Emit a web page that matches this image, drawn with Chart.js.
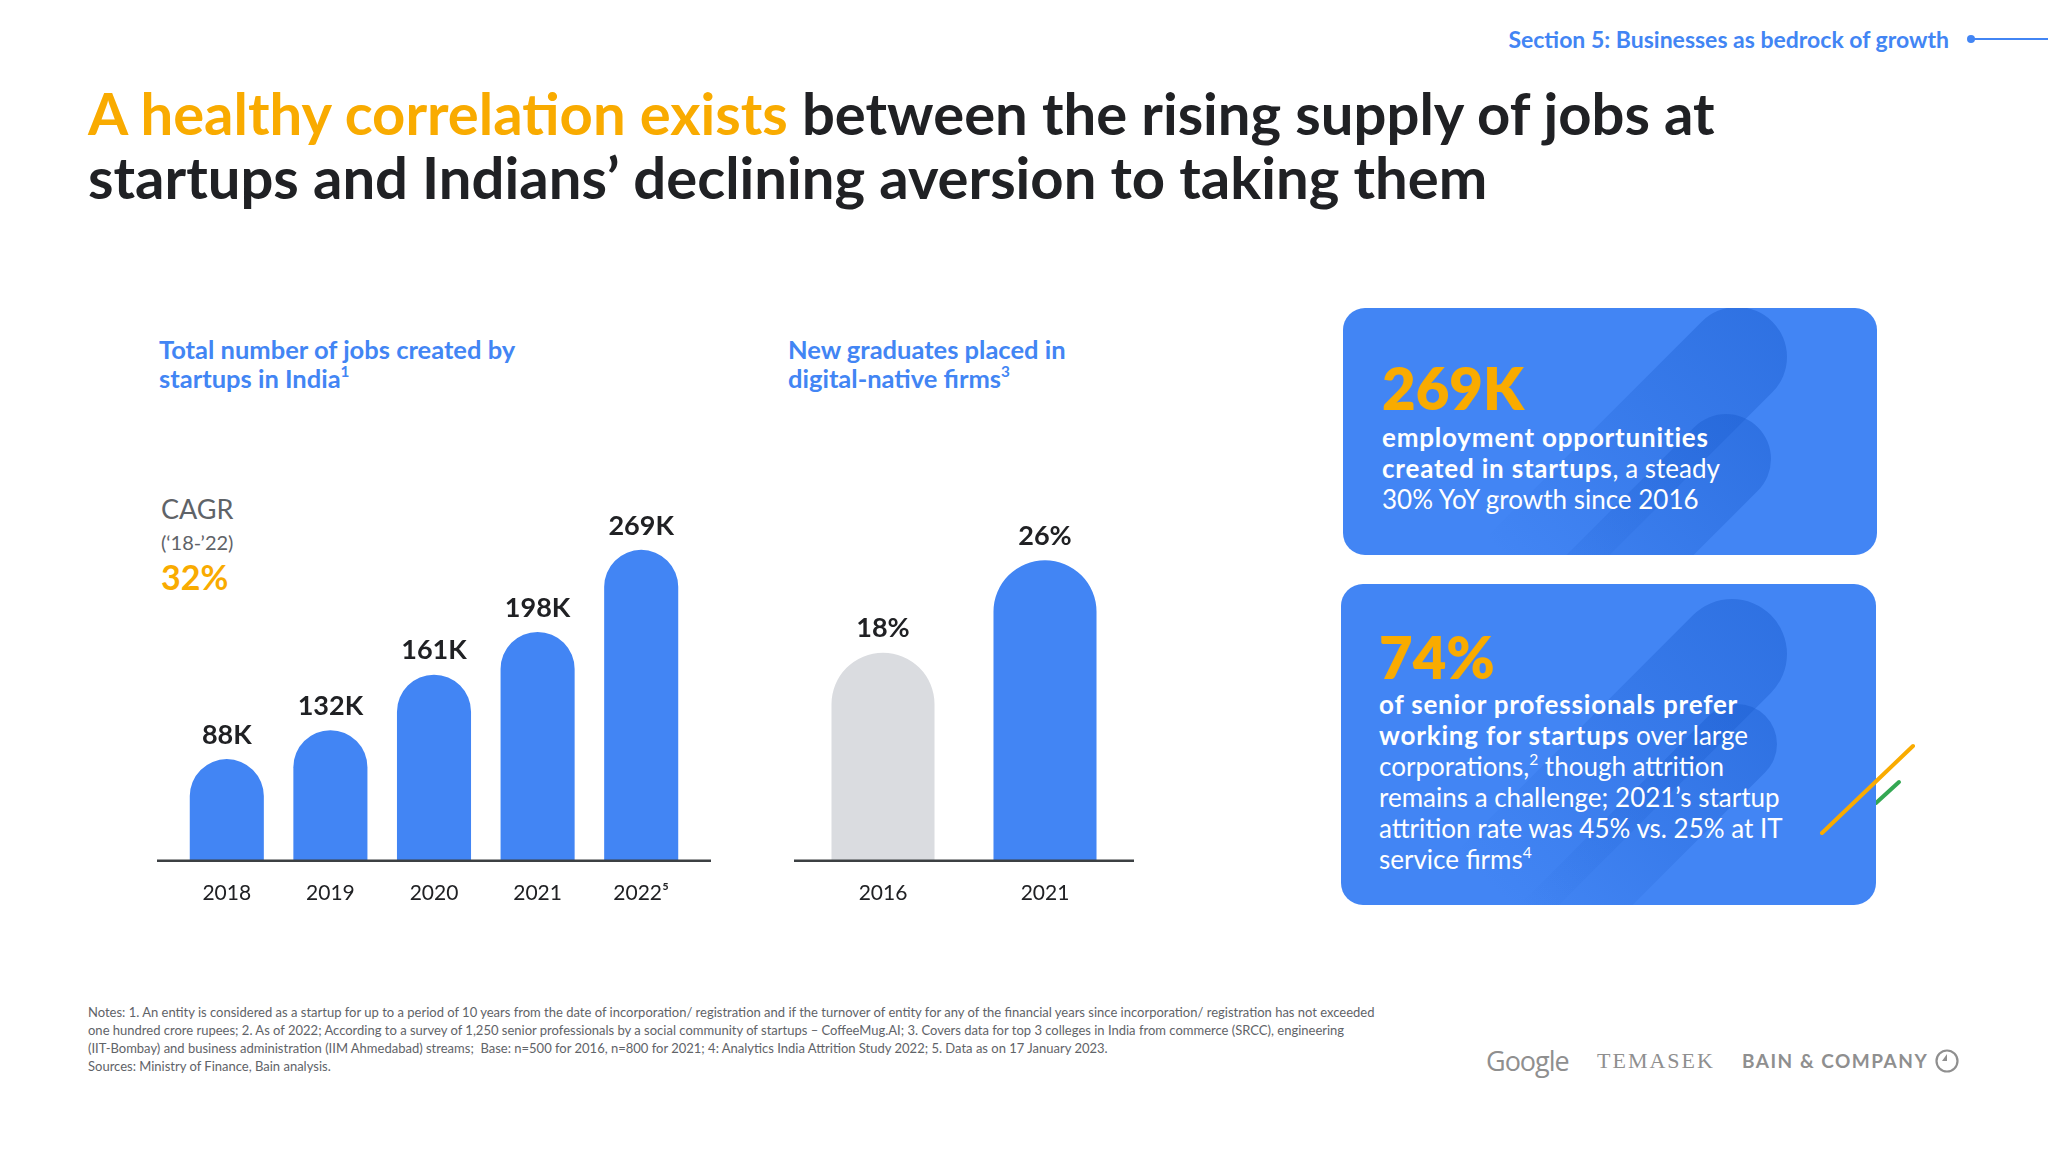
<!DOCTYPE html>
<html>
<head>
<meta charset="utf-8">
<script src="https://cdn.jsdelivr.net/npm/chart.js@4.4.1/dist/chart.umd.min.js"></script>
<style>
  html, body { margin: 0; padding: 0; background: #fff; }
  body { width: 2048px; height: 1152px; position: relative; overflow: hidden; font-family: Lato, "Open Sans", sans-serif; color: #202124; }
  .abs { position: absolute; }
  .section { right: 99px; top: 25px; font-size: 23px; font-weight: 700; color: #4285F4; white-space: nowrap; }
  .section-line { left: 1972px; top: 38px; width: 76px; height: 2px; background: #4285F4; }
  .section-dot { left: 1967px; top: 35px; width: 8px; height: 8px; border-radius: 50%; background: #4285F4; }
  .title { left: 88px; top: 81px; font-size: 58px; line-height: 64px; font-weight: 700; white-space: nowrap; }
  .title .hl { color: #F9AB00; }
  .sub { font-size: 25.5px; line-height: 29px; font-weight: 700; color: #4285F4; white-space: nowrap; }
  sup { font-size: 0.6em; line-height: 0; vertical-align: 0.7em; }
  .cagr { left: 161px; top: 491px; color: #5f6368; }
  .cagr .a { font-size: 27px; line-height: 36px; }
  .cagr .b { font-size: 20px; line-height: 30px; }
  .cagr .c { font-size: 34px; line-height: 40px; font-weight: 700; color: #F9AB00; }
  .card { background: #4285F4; border-radius: 22px; overflow: hidden; color: #fff; }
  .stripe { position: absolute; transform-origin: 50px 50px; transform: rotate(45deg);
            background: linear-gradient(to bottom, rgba(24,90,205,0.45), rgba(24,90,205,0.0) 85%); }
  .big { position: absolute; font-size: 58px; line-height: 64px; font-weight: 800; color: #F9AB00; }
  .body { position: absolute; font-size: 26px; line-height: 31px; white-space: nowrap; }
  .body b { font-weight: 700; letter-spacing: 0.8px; }
  .notes { left: 88px; top: 1003px; font-size: 13px; line-height: 18px; color: #5f6368; white-space: nowrap; }
  .logo { color: #8f8f8f; white-space: nowrap; }
</style>
</head>
<body>

<div class="abs section">Section 5: Businesses as bedrock of growth</div>
<div class="abs section-line"></div>
<div class="abs section-dot"></div>

<div class="abs title"><span class="hl">A healthy correlation exists</span> between the rising supply of jobs at<br>startups and Indians’ declining aversion to taking them</div>

<div class="abs sub" style="left:159px; top:335px;">Total number of jobs created by<br>startups in India<sup>1</sup></div>
<div class="abs sub" style="left:788px; top:335px;">New graduates placed in<br>digital-native firms<sup>3</sup></div>

<div class="abs cagr">
  <div class="a">CAGR</div>
  <div class="b">(‘18-’22)</div>
  <div class="c">32%</div>
</div>

<div class="abs" style="left:155px; top:514px; width:558px; height:412px;"><canvas id="jobsChart"></canvas></div>
<div class="abs" style="left:782px; top:514px; width:364px; height:412px;"><canvas id="gradChart"></canvas></div>

<svg class="abs" style="left:1800px; top:730px;" width="130" height="120">
  <line x1="76" y1="73" x2="99" y2="52" stroke="#34A853" stroke-width="4" stroke-linecap="round"/>
</svg>

<div class="abs card" style="left:1343px; top:308px; width:534px; height:247px;">
  <div class="stripe" style="left:344px; top:-1px; width:100px; height:420px; border-radius:50px;"></div>
  <div class="stripe" style="left:338px; top:106px; width:90px; height:360px; border-radius:45px; transform-origin:45px 45px;"></div>
  <div class="big" style="left:39px; top:48px;">269K</div>
  <div class="body" style="left:39px; top:114px;"><b>employment opportunities<br>created in startups</b>, a steady<br>30% YoY growth since 2016</div>
</div>

<div class="abs card" style="left:1341px; top:584px; width:535px; height:321px;">
  <div class="stripe" style="left:336px; top:15px; width:110px; height:460px; border-radius:55px; transform-origin:55px 55px;"></div>
  <div class="stripe" style="left:356px; top:120px; width:80px; height:360px; border-radius:40px; transform-origin:40px 40px;"></div>
  <div class="big" style="left:38px; top:41px;">74%</div>
  <div class="body" style="left:38px; top:105px;"><b>of senior professionals prefer<br>working for startups</b> over large<br>corporations,<sup>2</sup> though attrition<br>remains a challenge; 2021’s startup<br>attrition rate was 45% vs. 25% at IT<br>service firms<sup>4</sup></div>
</div>

<svg class="abs" style="left:1800px; top:730px;" width="130" height="120">
  <line x1="22" y1="103" x2="113" y2="16" stroke="#F9AB00" stroke-width="4" stroke-linecap="round"/>
</svg>

<div class="abs notes">Notes: 1. An entity is considered as a startup for up to a period of 10 years from the date of incorporation/ registration and if the turnover of entity for any of the financial years since incorporation/ registration has not exceeded<br>one hundred crore rupees; 2. As of 2022; According to a survey of 1,250 senior professionals by a social community of startups – CoffeeMug.AI; 3. Covers data for top 3 colleges in India from commerce (SRCC), engineering<br>(IIT-Bombay) and business administration (IIM Ahmedabad) streams;&nbsp; Base: n=500 for 2016, n=800 for 2021; 4: Analytics India Attrition Study 2022; 5. Data as on 17 January 2023.<br>Sources: Ministry of Finance, Bain analysis.</div>

<div class="abs logo" style="left:1486px; top:1042px; font-size:27px; font-family:'Open Sans', sans-serif; letter-spacing:-1px;">Google</div>
<div class="abs logo" style="left:1597px; top:1048px; font-size:22px; font-family:'Liberation Serif', serif; letter-spacing:2px;">TEMASEK</div>
<div class="abs logo" style="left:1742px; top:1049px; font-size:19px; font-family:Lato, sans-serif; font-weight:700; letter-spacing:1.5px;">BAIN &amp; COMPANY</div>
<svg class="abs" style="left:1934px; top:1048px;" width="26" height="26">
  <circle cx="13" cy="13" r="10.5" fill="none" stroke="#8f8f8f" stroke-width="2.2"/>
  <path d="M13 6 L13 13 L8 13 Z" fill="#8f8f8f"/>
</svg>

<script>
  // chart data (bar heights as drawn in the picture; the 2019 bar is drawn
  // shorter than its printed 132K label, so labels are kept separately)
  var jobYears = ['2018', '2019', '2020', '2021', '2022⁵'];
  var jobValues = [88, 113, 161, 198, 269];
  var jobLabels = ['88K', '132K', '161K', '198K', '269K'];
  var gradYears = ['2016', '2021'];
  var gradValues = [18, 26];
  var gradLabels = ['18%', '26%'];
  var gradColors = ['#DADCE0', '#4285F4'];

  var BLUE = '#4285F4';
  var INK = '#202124';

  // value labels above bars + baseline a bit wider than the plot
  var barDecor = {
    id: 'barDecor',
    afterDatasetsDraw: function (chart, args, opts) {
      var ctx = chart.ctx;
      var area = chart.chartArea;
      ctx.save();
      ctx.strokeStyle = '#3c4043';
      ctx.lineWidth = 2.5;
      ctx.beginPath();
      ctx.moveTo(area.left - opts.ext, area.bottom);
      ctx.lineTo(area.right + opts.ext, area.bottom);
      ctx.stroke();

      var meta = chart.getDatasetMeta(0);
      ctx.fillStyle = INK;
      ctx.font = 'bold 27px Lato, sans-serif';
      ctx.textAlign = 'center';
      ctx.textBaseline = 'middle';
      meta.data.forEach(function (bar, i) {
        ctx.fillText(opts.labels[i], bar.x, bar.y - 24);
      });
      ctx.restore();
    }
  };

  function makeChart(id, cats, values, labels, colors, max, barPct, ext) {
    return new Chart(document.getElementById(id), {
      type: 'bar',
      data: {
        labels: cats,
        datasets: [{
          data: values,
          backgroundColor: colors,
          borderRadius: 200,
          borderSkipped: 'start',
          barPercentage: barPct,
          categoryPercentage: 1
        }]
      },
      options: {
        responsive: true,
        maintainAspectRatio: false,
        animation: false,
        layout: { padding: { left: 20, right: 20, top: 0, bottom: 0 } },
        plugins: {
          legend: { display: false },
          tooltip: { enabled: false },
          barDecor: { ext: ext, labels: labels }
        },
        scales: {
          x: {
            grid: { display: false, drawTicks: false },
            border: { display: false },
            ticks: { color: INK, padding: 20, font: { family: 'Lato, sans-serif', size: 21 } }
          },
          y: { display: false, min: 0, max: max }
        }
      },
      plugins: [barDecor]
    });
  }

  makeChart('jobsChart', jobYears, jobValues, jobLabels, BLUE, 300, 0.715, 18);
  makeChart('gradChart', gradYears, gradValues, gradLabels, gradColors, 30, 0.636, 8);
</script>
</body>
</html>
